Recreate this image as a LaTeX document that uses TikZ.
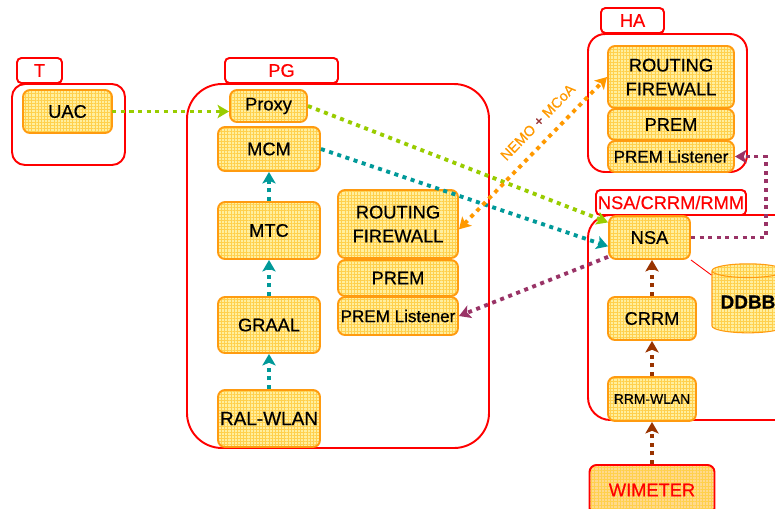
\documentclass[tikz,border=0pt]{standalone}
\usepackage{fontspec}
\setmainfont{Liberation Sans}[FakeBold=0.5]
\usetikzlibrary{arrows.meta, patterns.meta, shapes.geometric}

\definecolor{boxyellow}{HTML}{FFEF9E}
\definecolor{gridgold}{HTML}{FFD04D}
\definecolor{boxorange}{HTML}{FF9B10}
\definecolor{meterfill}{HTML}{FFD98C}
\definecolor{linkgreen}{HTML}{99CC00}
\definecolor{linkteal}{HTML}{009999}
\definecolor{linkorange}{HTML}{FF9900}
\definecolor{linkpurple}{HTML}{993366}
\definecolor{linkbrown}{HTML}{993300}
\definecolor{plusred}{HTML}{993333}

\begin{document}
\begin{tikzpicture}[
    x=0.2mm, y=-0.2mm,
    font=\fontsize{10.4}{13.6}\selectfont,
    unit/.style 2 args={rectangle, rounded corners=4pt, draw=boxorange, line width=1.1pt,
        preaction={fill=boxyellow},
        pattern={Hatch[angle=0, distance=1.8pt, line width=0.3pt]}, pattern color=gridgold,
        minimum width=#1, minimum height=#2, inner sep=0pt, align=center},
    tab/.style={rectangle, rounded corners=2.5pt, draw=red, line width=1.1pt, fill=white,
        text=red, minimum width=#1, minimum height=5mm, inner sep=0pt},
    group/.style={draw=red, line width=1.1pt, rounded corners=#1},
    link/.style={line width=2.2pt, dash pattern=on 2.3pt off 2.6pt, draw=#1,
        -{Stealth[length=6.5pt, width=7.5pt, inset=1.5pt]}},
]
    \clip (0,0) rectangle (775,508);

    % Groups
    \draw[group=2.6mm] (12,84) rectangle (125,165);
    \draw[group=7mm]   (187,84) rectangle (489,448);
    \draw[group=3.4mm] (588,34) rectangle (747,172);
    \draw[group=4.5mm] (588,215) rectangle (810,420);

    \node[tab=9mm]    (tabt)   at (39.5,70.5)  {T};
    \node[tab=22.6mm] (tabpg)  at (281.5,70.5) {PG};
    \node[tab=12.6mm] (tabha)  at (632.5,20.5) {HA};
    \node[tab=30mm]   (tabnsa) at (671,202.5)  {NSA/CRRM/RMM};

    % Terminal
    \node[unit={17.8mm}{8.6mm}] (uac) at (67.5,111.5) {UAC};

    % PG
    \node[unit={15.4mm}{6.4mm}]  (proxy)   at (268.5,106) {Proxy};
    \node[unit={20.4mm}{8.8mm}]  (mcm)     at (269,149)   {MCM};
    \node[unit={20.4mm}{11.4mm}] (mtc)     at (269,230.5) {MTC};
    \node[unit={20.4mm}{11.2mm}] (graal)   at (269,325)   {GRAAL};
    \node[unit={20.4mm}{11.4mm}, font=\fontsize{10.8}{12}\selectfont]
        (ralwlan) at (269,418.5) {RAL-WLAN};
    \node[unit={24mm}{13.6mm}] (pgfw)    at (398,224) {ROUTING\\FIREWALL};
    \node[unit={24mm}{7.2mm}]  (pgprem)  at (398,278) {PREM};
    \node[unit={24mm}{7.6mm}, font=\fontsize{9.7}{11}\selectfont]
        (pglisten) at (398,316) {PREM Listener};

    % HA
    \node[unit={25.2mm}{12.4mm}] (hafw)   at (671,77)    {ROUTING\\FIREWALL};
    \node[unit={25.2mm}{6.2mm}]  (haprem) at (671,124.5) {PREM};
    \node[unit={25.2mm}{6.2mm}, font=\fontsize{9.7}{11}\selectfont]
        (halisten) at (671,156.5) {PREM Listener};

    % NSA/CRRM/RMM
    \node[unit={16.2mm}{8.6mm}] (nsa)  at (649.5,237.5) {NSA};
    \node[unit={17.6mm}{8.6mm}] (crrm) at (652,318.5)   {CRRM};
    \node[unit={17.6mm}{8.8mm}, font=\fontsize{7.9}{9}\selectfont]
        (rrmwlan) at (652,399) {RRM-WLAN};
    \node[unit={25mm}{10mm}, draw=red, preaction={fill=meterfill}, text=red]
        (wimeter) at (652,490) {WIMETER};
    \node[cylinder, shape border rotate=90, aspect=0.25, draw=boxorange, line width=0.6pt,
        preaction={fill=boxyellow},
        pattern={Hatch[angle=0, distance=1.8pt, line width=0.3pt]}, pattern color=gridgold,
        minimum width=14.4mm, minimum height=13.8mm, inner sep=0pt,
        font=\fontsize{10.8}{12}\selectfont\bfseries] (ddbb) at (748,302) {DDBB};

    % Links
    \draw[link=linkgreen] (uac) -- (uac -| proxy.west);
    \draw[link=linkgreen] (proxy.east) -- (nsa.160);
    \draw[link=linkteal] (mcm.east) -- (nsa.192);
    \draw[link=linkteal] (mtc) -- (mcm);
    \draw[link=linkteal] (graal) -- (mtc);
    \draw[link=linkteal] (ralwlan) -- (graal);
    \draw[link=linkorange, arrows={Stealth[length=6.5pt, width=7.5pt, inset=1.5pt]-Stealth[length=6.5pt, width=7.5pt, inset=1.5pt]}]
        (pgfw.355) -- (hafw.west)
        node[sloped, pos=0.62, above=3pt, text=linkorange, font=\fontsize{8.2}{9}\selectfont]
        {NEMO \textcolor{plusred}{+} MCoA};
    \draw[link=linkpurple] (nsa.205) -- (pglisten.east);
    \coordinate (turn) at (766,200);
    \draw[link=linkpurple] (nsa.east) -| (turn) |- (halisten.east);
    \draw[link=linkbrown] (crrm) -- (crrm |- nsa.south);
    \draw[link=linkbrown] (rrmwlan) -- (crrm);
    \draw[link=linkbrown] (wimeter) -- (rrmwlan);
    \draw[red, line width=0.5pt] (nsa.south east) -- (ddbb);

\end{tikzpicture}
\end{document}
